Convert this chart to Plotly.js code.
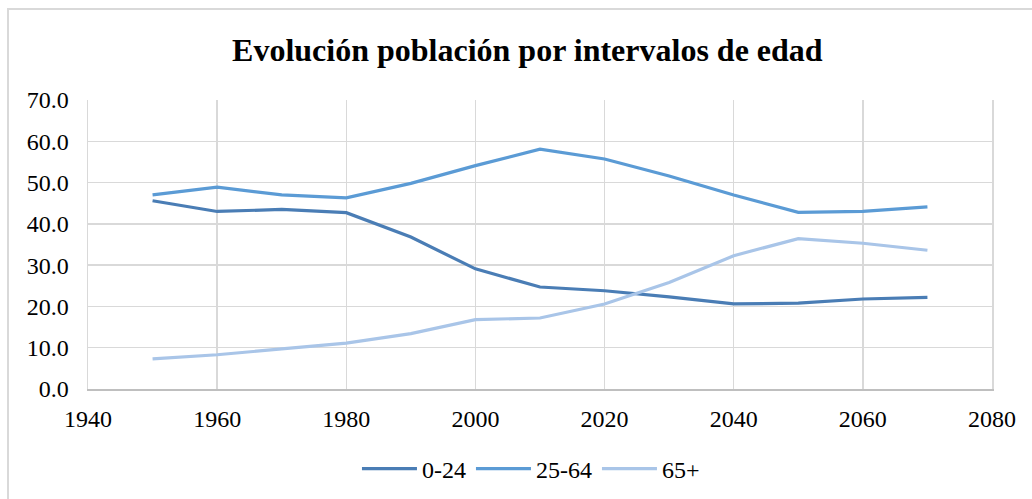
<!DOCTYPE html>
<html>
<head>
<meta charset="utf-8">
<script src="https://cdn.plot.ly/plotly-3.0.1.min.js"></script>
<style>
  html, body { margin: 0; padding: 0; background: #fff; }
  #wrap { position: relative; width: 1032px; height: 499px; overflow: hidden; }
  #chart { position: absolute; left: 0; top: 0; width: 1032px; height: 499px; }
  #frame { position: absolute; left: 7px; top: 8px; width: 1040px; height: 510px;
           border: 2px solid #d9d9d9; pointer-events: none; box-sizing: border-box; }
</style>
</head>
<body>
<div id="wrap">
  <div id="chart"></div>
  <div id="frame"></div>
</div>
<script>
const years = [1950, 1960, 1970, 1980, 1990, 2000, 2010, 2020, 2030, 2040, 2050, 2060, 2070];
const age0_24 = [45.6, 43.0, 43.5, 42.7, 36.8, 29.1, 24.7, 23.8, 22.3, 20.6, 20.8, 21.8, 22.2];
const age25_64 = [47.0, 48.9, 47.0, 46.3, 49.8, 54.1, 58.1, 55.7, 51.6, 47.0, 42.8, 43.0, 44.1];
const age65plus = [7.3, 8.3, 9.7, 11.1, 13.4, 16.8, 17.2, 20.6, 25.8, 32.3, 36.4, 35.3, 33.6];
const seriesNames = ['0-24', '25-64', '65+'];
const xTicks = [1940, 1960, 1980, 2000, 2020, 2040, 2060, 2080];
const yTicks = [0, 10, 20, 30, 40, 50, 60, 70];
const yTickLabels = yTicks.map(v => v.toFixed(1));

const FONT = 'Liberation Serif';
const colors = ['#4a7db5', '#5b9bd5', '#a9c5e8'];
const data = [age0_24, age25_64, age65plus].map((ys, i) => ({
  x: years, y: ys, name: seriesNames[i], type: 'scatter', mode: 'lines',
  line: { color: colors[i], width: 3.2 }
}));

const layout = {
  width: 1032, height: 499,
  margin: { l: 88, r: 40, t: 100, b: 110 },
  paper_bgcolor: '#ffffff', plot_bgcolor: '#ffffff',
  font: { family: FONT, size: 24, color: '#000' },
  title: {
    text: '<b>Evolución población por intervalos de edad</b>',
    font: { family: FONT, size: 32, color: '#000' },
    xref: 'container', x: 0.511, xanchor: 'center',
    yref: 'container', y: 0.9, yanchor: 'middle'
  },
  xaxis: {
    range: [1940, 2080], tickvals: xTicks, ticktext: xTicks.map(String),
    showgrid: true, gridcolor: '#d9d9d9', gridwidth: 1.5,
    showline: true, linecolor: '#bfbfbf', linewidth: 1.5, mirror: false,
    zeroline: false, ticks: '', ticklabelstandoff: 8,
    tickfont: { family: FONT, size: 24, color: '#000' }
  },
  yaxis: {
    range: [0, 70], tickvals: yTicks, ticktext: yTickLabels,
    showgrid: true, gridcolor: '#d9d9d9', gridwidth: 1.5,
    showline: true, linecolor: '#d9d9d9', linewidth: 1.5, mirror: true,
    zeroline: false, ticks: '', ticklabelstandoff: 13,
    tickfont: { family: FONT, size: 24, color: '#000' }
  },
  showlegend: true,
  legend: {
    orientation: 'h', xref: 'container', x: 0.5145, xanchor: 'center',
    yref: 'container', y: 0.06, yanchor: 'middle',
    font: { family: FONT, size: 24, color: '#000' },
    itemwidth: 55, tracegroupgap: 0
  }
};

Plotly.newPlot('chart', data, layout, { staticPlot: true, displayModeBar: false });
</script>
</body>
</html>
